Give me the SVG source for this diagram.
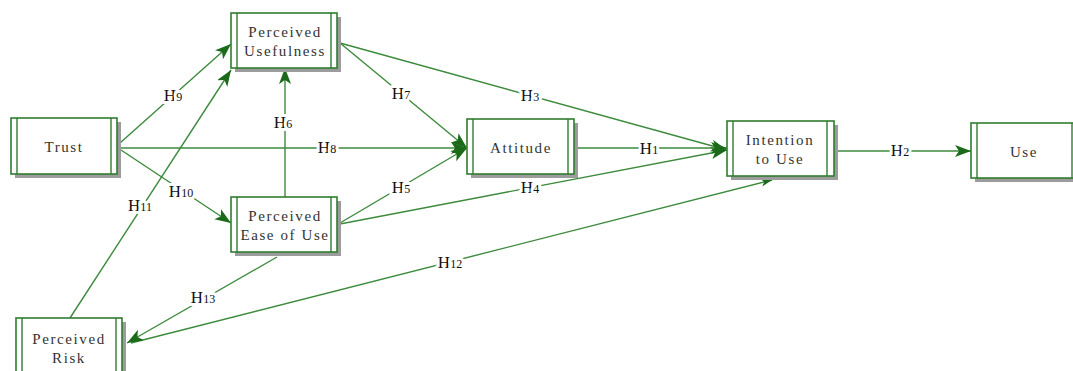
<svg xmlns="http://www.w3.org/2000/svg" width="1073" height="371" viewBox="0 0 1073 371">
<defs>
<style>
.sh{fill:#9c9c9c}
.bx{fill:#fff;stroke:#2f7d2f;stroke-width:1.6}
.bar{stroke:#2f7d2f;stroke-width:1.4}
.nt{font-family:"Liberation Serif",serif;font-size:15px;letter-spacing:1.6px;fill:#333;text-anchor:middle}
.ln{stroke:#3c8a3c;stroke-width:1.4;fill:none}
.lb{font-family:"Liberation Serif",serif;font-size:17px;fill:#111;text-anchor:middle;paint-order:stroke;stroke:#fff;stroke-width:6px;stroke-linejoin:round}
.sub{font-size:12px}
</style>
<marker id="ar" markerUnits="userSpaceOnUse" markerWidth="18" markerHeight="13" refX="16" refY="6" orient="auto">
<path d="M0,0 L16,6 L0,12 L4,6 z" fill="#1a6a1a"/>
</marker>
<marker id="ars" markerUnits="userSpaceOnUse" markerWidth="12" markerHeight="10" refX="11" refY="4" orient="auto">
<path d="M0,0 L11,4 L0,8 L3,4 z" fill="#1a6a1a"/>
</marker>
</defs>
<rect width="1073" height="371" fill="#fff"/>
<g id="connectors">
<line class="ln" x1="120" y1="143" x2="231" y2="44" marker-end="url(#ar)"/>
<line class="ln" x1="70" y1="318" x2="231" y2="70" marker-end="url(#ar)"/>
<line class="ln" x1="120" y1="148" x2="467" y2="148" marker-end="url(#ar)"/>
<line class="ln" x1="121" y1="150" x2="231" y2="223" marker-end="url(#ar)"/>
<line class="ln" x1="285" y1="197" x2="285" y2="68" marker-end="url(#ar)"/>
<line class="ln" x1="340" y1="43" x2="467" y2="148" marker-end="url(#ar)"/>
<line class="ln" x1="340" y1="43" x2="727" y2="150" marker-end="url(#ar)"/>
<line class="ln" x1="340" y1="223" x2="467" y2="148" marker-end="url(#ar)"/>
<line class="ln" x1="340" y1="224" x2="727" y2="150" marker-end="url(#ar)"/>
<line class="ln" x1="574" y1="148" x2="727" y2="148" marker-end="url(#ar)"/>
<line class="ln" x1="834" y1="151" x2="971" y2="151" marker-end="url(#ar)"/>
<line class="ln" x1="131" y1="343" x2="772" y2="180" marker-end="url(#ars)"/>
<line class="ln" x1="277" y1="257" x2="127" y2="343" marker-end="url(#ar)"/>
<text class="lb" x="173" y="101">H<tspan class="sub">9</tspan></text>
<text class="lb" x="140" y="211">H<tspan class="sub">11</tspan></text>
<text class="lb" x="181" y="197">H<tspan class="sub">10</tspan></text>
<text class="lb" x="283" y="128">H<tspan class="sub">6</tspan></text>
<text class="lb" x="327" y="153">H<tspan class="sub">8</tspan></text>
<text class="lb" x="401" y="99">H<tspan class="sub">7</tspan></text>
<text class="lb" x="530" y="101">H<tspan class="sub">3</tspan></text>
<text class="lb" x="401" y="193">H<tspan class="sub">5</tspan></text>
<text class="lb" x="530" y="193">H<tspan class="sub">4</tspan></text>
<text class="lb" x="649" y="154">H<tspan class="sub">1</tspan></text>
<text class="lb" x="900" y="156">H<tspan class="sub">2</tspan></text>
<text class="lb" x="450" y="268">H<tspan class="sub">12</tspan></text>
<text class="lb" x="203" y="303">H<tspan class="sub">13</tspan></text>
</g>
<g id="trust">
<rect class="sh" x="15" y="122" width="106" height="56"/>
<rect class="bx" x="11" y="118" width="106" height="56"/>
<line class="bar" x1="17" y1="118" x2="17" y2="174"/><line class="bar" x1="111" y1="118" x2="111" y2="174"/>
<text class="nt" x="64" y="152">Trust</text>
</g>
<g id="pu">
<rect class="sh" x="235" y="17" width="106" height="55"/>
<rect class="bx" x="231" y="13" width="106" height="55"/>
<line class="bar" x1="237" y1="13" x2="237" y2="68"/><line class="bar" x1="331" y1="13" x2="331" y2="68"/>
<text class="nt" x="285" y="37">Perceived</text>
<text class="nt" x="285" y="56">Usefulness</text>
</g>
<g id="peou">
<rect class="sh" x="235" y="201" width="106" height="55"/>
<rect class="bx" x="231" y="197" width="106" height="55"/>
<line class="bar" x1="237" y1="197" x2="237" y2="252"/><line class="bar" x1="331" y1="197" x2="331" y2="252"/>
<text class="nt" x="285" y="221">Perceived</text>
<text class="nt" x="285" y="240">Ease of Use</text>
</g>
<g id="risk">
<rect class="sh" x="20" y="322" width="106" height="56"/>
<rect class="bx" x="16" y="318" width="106" height="56"/>
<line class="bar" x1="22" y1="318" x2="22" y2="374"/><line class="bar" x1="116" y1="318" x2="116" y2="374"/>
<text class="nt" x="69" y="344">Perceived</text>
<text class="nt" x="69" y="363">Risk</text>
</g>
<g id="attitude">
<rect class="sh" x="471" y="123" width="107" height="55"/>
<rect class="bx" x="467" y="119" width="107" height="55"/>
<line class="bar" x1="473" y1="119" x2="473" y2="174"/><line class="bar" x1="568" y1="119" x2="568" y2="174"/>
<text class="nt" x="521" y="153">Attitude</text>
</g>
<g id="intention">
<rect class="sh" x="731" y="125" width="107" height="55"/>
<rect class="bx" x="727" y="121" width="107" height="55"/>
<line class="bar" x1="733" y1="121" x2="733" y2="176"/><line class="bar" x1="827" y1="121" x2="827" y2="176"/>
<text class="nt" x="780" y="145">Intention</text>
<text class="nt" x="780" y="164">to Use</text>
</g>
<g id="use">
<rect class="sh" x="975" y="127" width="107" height="55"/>
<rect class="bx" x="971" y="123" width="107" height="55"/>
<line class="bar" x1="977" y1="123" x2="977" y2="178"/><line class="bar" x1="1072" y1="123" x2="1072" y2="178"/>
<text class="nt" x="1024" y="157">Use</text>
</g>
</svg>
